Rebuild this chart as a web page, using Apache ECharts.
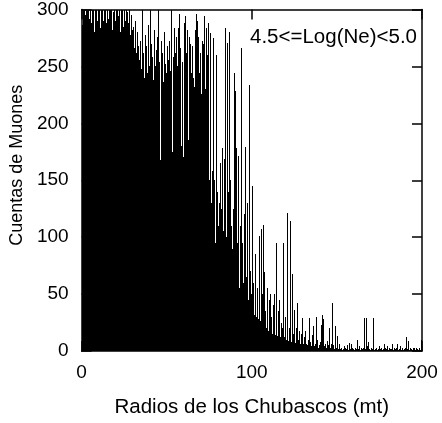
<!DOCTYPE html>
<html><head><meta charset="utf-8">
<script src="https://cdn.jsdelivr.net/npm/echarts@6/dist/echarts.min.js"></script>
<style>html,body{margin:0;padding:0;background:#fff}#c{width:442px;height:423px}</style>
</head><body><div id="c"></div>
<script>
// Muon counts per 0.5 mt radial bin (0 .. 200 mt)
const binWidth = 0.5;
const counts = [
282,286,300,310,295,305,285,300,315,292,
300,288,310,296,305,280,300,312,290,306,
295,308,284,300,318,290,302,296,310,288,
304,292,315,286,300,310,282,298,306,290,
312,288,300,294,308,280,302,296,310,285,
300,290,306,276,298,288,304,278,295,282,
272,285,266,290,262,280,268,175,256,272,
248,302,262,240,278,252,268,244,286,250,
300,246,270,258,238,282,250,264,242,276,
302,254,168,272,248,262,236,280,252,244,
268,240,256,272,246,300,175,164,258,284,
262,276,250,284,292,296,266,180,254,170,
288,176,294,262,282,185,276,250,270,244,
268,240,232,282,296,225,290,276,244,262,
226,272,240,270,294,230,284,210,260,288,
150,279,130,158,120,275,150,95,260,140,
110,130,80,165,125,178,105,169,120,284,
100,271,140,280,65,150,110,90,125,244,
228,80,178,95,171,55,110,266,75,95,
60,120,179,65,130,80,45,234,70,50,
145,35,60,32,85,30,55,28,101,40,
26,107,50,111,24,69,35,20,55,18,
45,16,50,30,15,40,50,14,28,95,
13,35,45,12,25,11,20,95,12,30,
10,121,32,9,20,114,8,68,15,8,
36,7,20,42,10,7,18,6,15,29,
6,12,5,18,6,5,10,29,5,8,
4,14,22,4,6,30,4,10,3,5,
8,23,3,32,28,4,6,3,9,3,
5,20,3,6,42,3,5,2,22,3,
13,2,6,4,2,3,1,2,4,1,
3,2,5,1,7,2,1,6,3,2,
1,3,2,1,10,2,4,1,3,2,
1,3,29,2,29,1,4,8,2,1,
3,2,4,29,1,2,3,1,2,4,
1,2,3,1,2,6,1,3,2,4,
1,3,2,1,2,6,1,3,2,1,
3,6,1,2,4,1,2,3,1,2,
3,12,1,2,9,1,3,2,1,3,
2,3,1,3,2,1,3,2,1,10
];
const radii = counts.map((_, i) => i * binWidth + binWidth / 2);
const xLabel = 'Radios de los Chubascos (mt)';
const yLabel = 'Cuentas de Muones';
const panelLabel = '4.5<=Log(Ne)<5.0';

const FONT = "'Liberation Sans', Arial, sans-serif";
const chart = echarts.init(document.getElementById('c'), null, {renderer: 'canvas'});
const mkLine = () => ({show: true, onZero: false, lineStyle: {color: '#000', width: 1.5}});
const mkTick = () => ({show: true, inside: true, length: 10, lineStyle: {color: '#000', width: 1.5}});
chart.setOption({
  animation: false,
  backgroundColor: '#fff',
  grid: {left: 77, right: 20, top: 9, bottom: 68, containLabel: false},
  graphic: [{
    type: 'text', right: 25, top: 27, z: 100,
    style: {text: panelLabel, font: `20.5px ${FONT}`, fill: '#000'}
  }],
  xAxis: [{
    type: 'value', min: 0, max: 200, interval: 100,
    name: xLabel, nameLocation: 'middle', nameGap: 46,
    nameTextStyle: {fontFamily: FONT, fontSize: 20.5, color: '#000'},
    axisLine: mkLine(), axisTick: mkTick(), splitLine: {show: false},
    axisLabel: {fontFamily: FONT, fontSize: 19, color: '#000', margin: 12}
  }, {
    type: 'value', min: 0, max: 200, interval: 100, position: 'top',
    axisLine: mkLine(), axisTick: mkTick(), axisLabel: {show: false}, splitLine: {show: false}
  }],
  yAxis: [{
    type: 'value', min: 0, max: 300, interval: 50,
    name: yLabel, nameLocation: 'middle', nameGap: 50,
    nameTextStyle: {fontFamily: FONT, fontSize: 18, color: '#000', padding: [0, 0, 0, 30]},
    axisLine: mkLine(), axisTick: mkTick(), splitLine: {show: false},
    axisLabel: {fontFamily: FONT, fontSize: 19, color: '#000', margin: 13}
  }, {
    type: 'value', min: 0, max: 300, interval: 50, position: 'right',
    axisLine: mkLine(), axisTick: mkTick(), axisLabel: {show: false}, splitLine: {show: false}
  }],
  series: [{
    type: 'custom', xAxisIndex: 0, yAxisIndex: 0,
    data: radii.map((r, i) => [r, counts[i]]),
    encode: {x: 0, y: 1},
    renderItem: function (params, api) {
      const cs = params.coordSys;
      const base = api.coord([api.value(0), 0]);
      const top = api.coord([api.value(0), api.value(1)]);
      const yTop = Math.round(Math.max(top[1], cs.y));
      const yBase = Math.round(base[1]);
      // snap each impulse to a whole pixel column so adjacent impulses tile without seams
      return {
        type: 'rect',
        shape: {x: Math.floor(base[0]), y: yTop, width: 1, height: yBase - yTop},
        style: {fill: '#000'}
      };
    }
  }]
});
</script></body></html>
